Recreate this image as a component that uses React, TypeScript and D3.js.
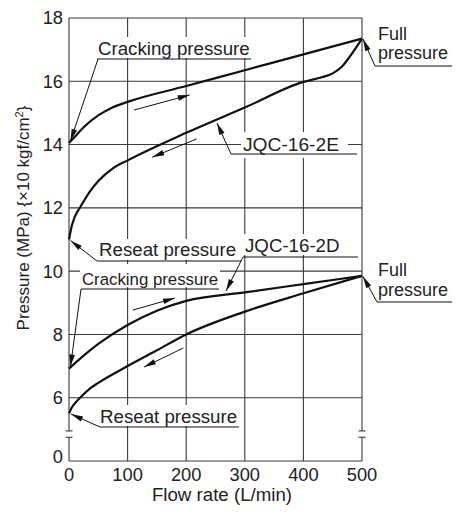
import React from 'react';
import * as d3 from 'd3';

// Axis ticks
const flowTicks = [0, 100, 200, 300, 400, 500];
const pressureTickValues = [4, 6, 8, 10, 12, 14, 16, 18];
const pressureTickLabels = ['0', '6', '8', '10', '12', '14', '16', '18'];
const gridPressures = [6, 8, 10, 12, 14, 16, 18];
const gridFlows = [100, 200, 300, 400, 500];

// JQC-16-2E, increasing flow (cracking -> full)
const e2CrackFlow = [0, 10, 25, 50, 75, 100, 200, 300, 400, 500];
const e2CrackP = [14.05, 14.25, 14.55, 14.92, 15.18, 15.35, 15.85, 16.35, 16.85, 17.35];
// JQC-16-2E, decreasing flow (full -> reseat)
const e2ReseatFlow = [0, 5, 10, 20, 35, 50, 75, 100, 200, 300, 400, 430, 450, 465, 480, 500];
const e2ReseatP = [11.0, 11.45, 11.72, 12.05, 12.5, 12.85, 13.25, 13.5, 14.37, 15.17, 15.98, 16.12, 16.25, 16.45, 16.8, 17.35];
// JQC-16-2D, increasing flow
const d2CrackFlow = [0, 25, 50, 100, 150, 200, 300, 400, 500];
const d2CrackP = [6.92, 7.33, 7.7, 8.3, 8.75, 9.06, 9.33, 9.59, 9.85];
// JQC-16-2D, decreasing flow
const d2ReseatFlow = [0, 5, 10, 19, 35, 50, 100, 150, 200, 300, 400, 500];
const d2ReseatP = [5.5, 5.7, 5.82, 6.0, 6.28, 6.47, 7.0, 7.5, 8.0, 8.72, 9.3, 9.85];

// Direction arrows along curves [flow1, p1, flow2, p2] (head at second point)
const dirArrows = [
  [111, 15.09, 206, 15.57],
  [218, 14.18, 142, 13.6],
  [109, 8.77, 181, 9.15],
  [195, 7.57, 128, 6.97],
];

const FONT = "'Liberation Sans', Arial, Helvetica, sans-serif";

function head(x1: number, y1: number, x2: number, y2: number, len = 10, w = 3.2) {
  const dx = x2 - x1, dy = y2 - y1;
  const L = Math.hypot(dx, dy) || 1;
  const ux = dx / L, uy = dy / L;
  const bx = x2 - ux * len, by = y2 - uy * len;
  const px = -uy * w, py = ux * w;
  return `${x2},${y2} ${bx + px},${by + py} ${bx - px},${by - py}`;
}

export default function App() {
  const W = 463, H = 515;
  const x = d3.scaleLinear().domain([0, 500]).range([69, 362]);
  const y = d3.scaleLinear().domain([4, 18]).range([461, 18]);
  const line = d3
    .line<[number, number]>()
    .x((d) => x(d[0]))
    .y((d) => y(d[1]))
    .curve(d3.curveMonotoneX);
  const zip = (a: number[], b: number[]) => a.map((v, i) => [v, b[i]] as [number, number]);

  const series = [
    zip(e2CrackFlow, e2CrackP),
    zip(e2ReseatFlow, e2ReseatP),
    zip(d2CrackFlow, d2CrackP),
    zip(d2ReseatFlow, d2ReseatP),
  ];

  const gridColor = '#3a3a3a';
  const x0 = x(0), x1 = x(500), yTop = y(18), yBot = y(4);
  const brkA = y(4.95), brkB = y(4.75);

  // label annotations: text lines, white mask, underline, leader with arrow tip
  const labels = [
    { fs: 18.7, lines: [{ t: 'Cracking pressure', x: 98, y: 55 }], mask: [96, 37, 157, 21], ul: [97, 251, 59], from: [98, 59], tip: [x(0) + 1.5, y(e2CrackP[0]) - 2] },
    { fs: 18.7, lines: [{ t: 'Reseat pressure', x: 99, y: 256 }], mask: [96, 239, 146, 21], ul: [97, 241, 261], from: [97, 261], tip: [x(0) + 1.5, y(e2ReseatP[0]) + 1] },
    { fs: 19.2, lines: [{ t: 'JQC-16-2E', x: 243, y: 151 }], mask: [241, 132, 107, 26], ul: [231, 357, 154], from: [231, 154], tip: [217, 123] },
    { fs: 18.7, lines: [{ t: 'JQC-16-2D', x: 245, y: 252 }], mask: [240, 234, 110, 21], ul: [243, 358, 257], from: [243, 257], tip: [226, 291] },
    { fs: 16.8, lines: [{ t: 'Cracking pressure', x: 82, y: 285 }], mask: [80, 264, 140, 23], ul: [81, 219, 289], from: [81, 289], tip: [x(0) + 1.5, y(d2CrackP[0]) - 2] },
    { fs: 18.7, lines: [{ t: 'Reseat pressure', x: 100, y: 423 }], mask: [97, 405, 143, 21], ul: [100, 239, 427], from: [100, 427], tip: [x(0) + 2, y(d2ReseatP[0]) + 0.5] },
    { fs: 18, lines: [{ t: 'Full', x: 378, y: 40 }, { t: 'pressure', x: 378, y: 59 }], mask: null, ul: [375, 452, 66], from: [375, 66], tip: [x(500) + 1, y(17.35) + 0.5] },
    { fs: 18, lines: [{ t: 'Full', x: 378, y: 276 }, { t: 'pressure', x: 378, y: 296 }], mask: null, ul: [377, 452, 302], from: [377, 302], tip: [x(500) + 1, y(9.85) + 0.5] },
  ];

  return (
    <svg width={W} height={H} style={{ position: 'absolute', left: 0, top: 0, background: '#fff' }} fontFamily={FONT}>
      <rect width={W} height={H} fill="#fff" />
      {/* grid */}
      {gridPressures.map((p) => (
        <line key={'h' + p} x1={x0} x2={x1} y1={y(p)} y2={y(p)} stroke={gridColor} strokeWidth={1.1} />
      ))}
      {gridFlows.map((f) => (
        <line key={'v' + f} x1={x(f)} x2={x(f)} y1={yTop} y2={f === 500 ? brkA : yBot} stroke={gridColor} strokeWidth={1.1} />
      ))}
      <line x1={x1} x2={x1} y1={brkB} y2={yBot} stroke={gridColor} strokeWidth={1.1} />
      {/* axes */}
      <line x1={x0} x2={x1} y1={yBot} y2={yBot} stroke={gridColor} strokeWidth={1.1} />
      <line x1={x0} x2={x0} y1={yTop} y2={brkA} stroke={gridColor} strokeWidth={1.1} />
      <line x1={x0} x2={x0} y1={brkB} y2={yBot} stroke={gridColor} strokeWidth={1.1} />
      {[x0, x1].map((xx) =>
        [brkA, brkB].map((yy) => (
          <line key={xx + '-' + yy} x1={xx - 3.5} x2={xx + 3.5} y1={yy} y2={yy} stroke={gridColor} strokeWidth={1.1} />
        ))
      )}
      {/* masks behind labels */}
      {labels.map((l, i) =>
        l.mask ? <rect key={'m' + i} x={l.mask[0]} y={l.mask[1]} width={l.mask[2]} height={l.mask[3]} fill="#fff" /> : null
      )}
      {/* curves */}
      {series.map((s, i) => (
        <path key={'s' + i} d={line(s) || ''} fill="none" stroke="#111" strokeWidth={2.2} strokeLinejoin="round" />
      ))}
      {/* direction arrows */}
      {dirArrows.map((a, i) => {
        const ax1 = x(a[0]), ay1 = y(a[1]), ax2 = x(a[2]), ay2 = y(a[3]);
        return (
          <g key={'a' + i}>
            <line x1={ax1} y1={ay1} x2={ax2} y2={ay2} stroke="#111" strokeWidth={1} />
            <polygon points={head(ax1, ay1, ax2, ay2, 12, 2.8)} fill="#111" />
          </g>
        );
      })}
      {/* labels */}
      {labels.map((l, i) => (
        <g key={'l' + i}>
          <line x1={l.ul[0]} x2={l.ul[1]} y1={l.ul[2]} y2={l.ul[2]} stroke="#111" strokeWidth={1} />
          <line x1={l.from[0]} y1={l.from[1]} x2={l.tip[0]} y2={l.tip[1]} stroke="#111" strokeWidth={1} />
          <polygon points={head(l.from[0], l.from[1], l.tip[0], l.tip[1], 12, 2.8)} fill="#111" />
          {l.lines.map((t, j) => (
            <text key={j} x={t.x} y={t.y} fontSize={l.fs} fill="#222">
              {t.t}
            </text>
          ))}
        </g>
      ))}
      {/* tick labels */}
      {pressureTickValues.map((p, i) => (
        <text key={'yt' + p} x={63} y={y(p) + (p === 4 ? -4 : 0)} dy="0.35em" textAnchor="end" fontSize={18.3} fill="#222">
          {pressureTickLabels[i]}
        </text>
      ))}
      {flowTicks.map((f) => (
        <text key={'xt' + f} x={x(f)} y={yBot + 19.5} textAnchor="middle" fontSize={18.3} fill="#222">
          {f}
        </text>
      ))}
      {/* axis titles */}
      <text x={222} y={501} textAnchor="middle" fontSize={18.7} fill="#222">
        Flow rate (L/min)
      </text>
      <text transform="translate(29,218) rotate(-90)" textAnchor="middle" fontSize={17} fill="#222">
        Pressure (MPa) {'{'}×10 kgf/cm<tspan dy={-6} fontSize={11}>2</tspan><tspan dy={6}>{'}'}</tspan>
      </text>
    </svg>
  );
}
